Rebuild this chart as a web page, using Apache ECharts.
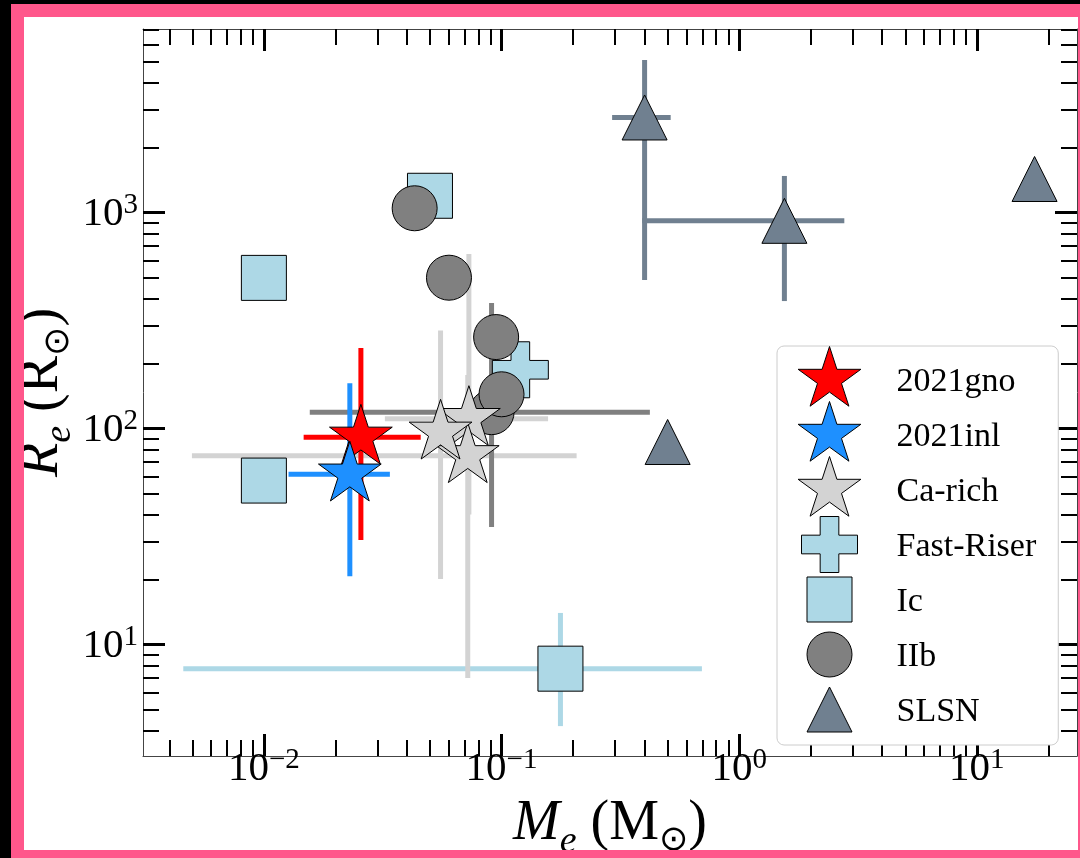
<!DOCTYPE html>
<html>
<head>
<meta charset="utf-8">
<script src="https://cdn.jsdelivr.net/npm/echarts@6.0.0/dist/echarts.min.js"></script>
<style>
  html, body { margin: 0; padding: 0; background: #000; width: 1080px; height: 858px; overflow: hidden; }
  #frame { position: absolute; left: 11px; top: 4px; border: 13px solid #ff578b; background: #fff; width: 1054px; height: 833px; }
  #chart { width: 1054px; height: 833px; }
</style>
</head>
<body>
<div id="frame"><div id="chart"></div></div>
<script>
// Each row: [ejecta mass (Msun), radius (Rsun), mass low, mass high, radius low, radius high]
const sn2021gno = [[0.0256, 91, 0.0147, 0.0457, 30.5, 236]];
const sn2021inl = [[0.0230, 61.4, 0.0127, 0.0339, 20.7, 162]];
const caRich = [
  [0.0729, 111, 0.0323, 0.157, 40, 643],
  [0.0721, 74.7, 0.00498, 0.207, 7.0, 177],
  [0.0554, 96, null, null, 20.1, 284]
];
const fastRiser = [[0.120, 187]];
const typeIc = [[0.0100, 498], [0.0500, 1195], [0.0100, 57.4], [0.177, 7.73, 0.00458, 0.697, 4.19, 14.0]];
const typeIIb = [[0.0908, 119, 0.0156, 0.421, 35, 381], [0.0431, 1046], [0.0601, 499], [0.0949, 265], [0.100, 144]];
const slsn = [[0.400, 2753, 0.292, 0.515, 487, 5082], [1.55, 915, 0.391, 2.77, 389, 1476], [17.5, 1429], [0.50, 86.6]];

const legendOrder = ['2021gno', '2021inl', 'Ca-rich', 'Fast-Riser', 'Ic', 'IIb', 'SLSN'];

// Axis limits and tick values
const xRange = [0.0031, 26.4];
const yRange = [3.047, 7070];
const xMajorTicks = [0.01, 0.1, 1, 10];
const xMinorTicks = [0.004, 0.005, 0.006, 0.007, 0.008, 0.009,
  0.02, 0.03, 0.04, 0.05, 0.06, 0.07, 0.08, 0.09,
  0.2, 0.3, 0.4, 0.5, 0.6, 0.7, 0.8, 0.9,
  2, 3, 4, 5, 6, 7, 8, 9, 20];
const yMajorTicks = [10, 100, 1000];
const yMinorTicks = [4, 5, 6, 7, 8, 9,
  20, 30, 40, 50, 60, 70, 80, 90,
  200, 300, 400, 500, 600, 700, 800, 900,
  2000, 3000, 4000, 5000, 6000, 7000];

const SERIF = "'Liberation Serif', 'DejaVu Serif', serif";

// Marker outlines, drawn inside a fixed 66x66 box so every symbol keeps its own pixel size
const PAD = 'M-33 -33 M33 33 ';
function starSymbol(R) {
  const r = R * 0.381966;
  let d = PAD;
  for (let k = 0; k < 10; k++) {
    const rad = k % 2 ? r : R;
    const a = (-90 + k * 36) * Math.PI / 180;
    d += (k ? 'L' : 'M') + (rad * Math.cos(a)).toFixed(2) + ' ' + (rad * Math.sin(a)).toFixed(2) + ' ';
  }
  return 'path://' + d + 'Z';
}
function squareSymbol(h) {
  return 'path://' + PAD + `M${-h} ${-h} L${h} ${-h} L${h} ${h} L${-h} ${h} Z`;
}
function circleSymbol(r) {
  return 'path://' + PAD + `M${r} 0 A${r} ${r} 0 1 1 ${-r} 0 A${r} ${r} 0 1 1 ${r} 0 Z`;
}
function triangleSymbol(h) {
  return 'path://' + PAD + `M0 ${-h} L${h} ${h} L${-h} ${h} Z`;
}
function plusSymbol(a) {
  const b = (a / 3).toFixed(2);
  return 'path://' + PAD + `M${-b} ${-a} L${b} ${-a} L${b} ${-b} L${a} ${-b} L${a} ${b} L${b} ${b} L${b} ${a} L${-b} ${a} L${-b} ${b} L${-a} ${b} L${-a} ${-b} L${-b} ${-b} Z`;
}

const groups = {
  '2021gno':    { rows: sn2021gno, color: '#ff0000', symbol: starSymbol(33) },
  '2021inl':    { rows: sn2021inl, color: '#1e90ff', symbol: starSymbol(33) },
  'Ca-rich':    { rows: caRich,    color: '#d3d3d3', symbol: starSymbol(33) },
  'Fast-Riser': { rows: fastRiser, color: '#add8e6', symbol: plusSymbol(28) },
  'Ic':         { rows: typeIc,    color: '#add8e6', symbol: squareSymbol(22.5) },
  'IIb':        { rows: typeIIb,   color: '#808080', symbol: circleSymbol(22.5) },
  'SLSN':       { rows: slsn,      color: '#708090', symbol: triangleSymbol(22.5) }
};

// Drawing order: error bars first (bottom), then markers
const barOrder = ['Ic', 'SLSN', 'Fast-Riser', 'Ca-rich', 'IIb', '2021inl', '2021gno'];
const markerOrder = ['SLSN', 'Fast-Riser', 'Ic', 'IIb', 'Ca-rich', '2021gno', '2021inl'];

function fullRow(r) {
  return [r[0], r[1], r[2] ?? null, r[3] ?? null, r[4] ?? null, r[5] ?? null];
}

function errorBarRenderer(color) {
  return function (params, api) {
    const x = api.value(0), y = api.value(1);
    const xl = api.value(2), xh = api.value(3), yl = api.value(4), yh = api.value(5);
    const style = { stroke: color, lineWidth: 5 };
    const kids = [];
    if (isFinite(xl) && isFinite(xh) && xl > 0 && xh > 0) {
      const a = api.coord([xl, y]), b = api.coord([xh, y]);
      kids.push({ type: 'line', shape: { x1: a[0], y1: a[1], x2: b[0], y2: b[1] }, style });
    }
    if (isFinite(yl) && isFinite(yh) && yl > 0 && yh > 0) {
      const a = api.coord([x, yl]), b = api.coord([x, yh]);
      kids.push({ type: 'line', shape: { x1: a[0], y1: a[1], x2: b[0], y2: b[1] }, style });
    }
    return { type: 'group', children: kids };
  };
}

const series = [];
barOrder.forEach(function (name) {
  const g = groups[name];
  series.push({
    type: 'custom',
    name: name + ' bars',
    xAxisIndex: 0, yAxisIndex: 0,
    silent: true, z: 1,
    dimensions: ['m', 'r', 'ml', 'mh', 'rl', 'rh'],
    encode: { x: 0, y: 1 },
    data: g.rows.map(fullRow),
    renderItem: errorBarRenderer(g.color)
  });
});
markerOrder.forEach(function (name) {
  const g = groups[name];
  series.push({
    type: 'scatter',
    name: name,
    xAxisIndex: 0, yAxisIndex: 0,
    silent: true, z: 2,
    symbol: g.symbol,
    symbolSize: 66,
    symbolKeepAspect: true,
    itemStyle: { color: g.color, borderColor: '#000', borderWidth: 1, opacity: 1 },
    data: g.rows.map(function (r) { return [r[0], r[1]]; })
  });
});

function powLabel(v) {
  const e = Math.round(Math.log10(v));
  return '{b|10}{s|' + (e < 0 ? '\u2212' + (-e) : String(e)) + '}';
}
const tickRich = {
  b: { fontFamily: SERIF, fontSize: 41, lineHeight: 44, padding: [5, 0, 0, 0], verticalAlign: 'bottom', color: '#000' },
  s: { fontFamily: SERIF, fontSize: 29, lineHeight: 29, verticalAlign: 'top', color: '#000' }
};
const nameRich = {
  i: { fontFamily: SERIF, fontStyle: 'italic', fontSize: 56, lineHeight: 64, verticalAlign: 'top', color: '#000' },
  n: { fontFamily: SERIF, fontSize: 56, lineHeight: 64, verticalAlign: 'top', color: '#000' },
  e: { fontFamily: SERIF, fontStyle: 'italic', fontSize: 38, lineHeight: 38, verticalAlign: 'top', padding: [27, 0, 0, 0], color: '#000' },
  o: { fontFamily: "'DejaVu Sans', 'DejaVu Serif', sans-serif", fontSize: 35, lineHeight: 38, verticalAlign: 'top', padding: [27, 0, 0, 0], color: '#000' }
};

function logAxis(position, range, ticks, major, labelled, extra) {
  return Object.assign({
    type: 'log', logBase: 10, position: position,
    min: range[0], max: range[1],
    axisLine: { show: major, onZero: false, lineStyle: { color: '#444', width: 1 } },
    axisTick: {
      show: true, inside: true, length: major ? 22 : 16, customValues: ticks,
      lineStyle: { color: '#000', width: major ? 3 : 2 }
    },
    axisLabel: labelled ? {
      show: true, customValues: ticks, formatter: powLabel, rich: tickRich,
      margin: position === 'bottom' ? -10 : 5
    } : { show: false },
    splitLine: { show: false },
    minorTick: { show: false },
    minorSplitLine: { show: false }
  }, extra || {});
}

const chart = echarts.init(document.getElementById('chart'), null, { renderer: 'canvas' });
chart.setOption({
  animation: false,
  backgroundColor: 'transparent',
  grid: { left: 119, right: 1, top: 12, bottom: 94, containLabel: false, outerBoundsMode: 'none' },
  xAxis: [
    logAxis('bottom', xRange, xMajorTicks, true, true, {
      name: '{i|M}{e|e}{n| (M}{o|\u2299}{n|)}', nameLocation: 'middle', nameGap: 40,
      nameMoveOverlap: false,
      nameTextStyle: { rich: nameRich }
    }),
    logAxis('bottom', xRange, xMinorTicks, false, false),
    logAxis('top', xRange, xMajorTicks, true, false),
    logAxis('top', xRange, xMinorTicks, false, false)
  ],
  yAxis: [
    logAxis('left', yRange, yMajorTicks, true, true, {
      name: '{i|R}{e|e}{n| (R}{o|\u2299}{n|)}', nameLocation: 'middle', nameGap: 65, nameRotate: 90,
      nameMoveOverlap: false,
      nameTextStyle: { rich: nameRich }
    }),
    logAxis('left', yRange, yMinorTicks, false, false),
    logAxis('right', yRange, yMajorTicks, true, false),
    logAxis('right', yRange, yMinorTicks, false, false)
  ],
  legend: {
    data: legendOrder,
    orient: 'vertical',
    left: 753, top: 329,
    itemWidth: 66, itemHeight: 66, itemGap: -12,
    padding: [0, 22, 2, 19],
    backgroundColor: '#ffffff',
    borderColor: '#cccccc', borderWidth: 1, borderRadius: 7,
    selectedMode: false,
    symbolKeepAspect: true,
    itemStyle: { borderColor: 'inherit', borderWidth: 1 },
    formatter: function (n) { return '{t|' + n + '}'; },
    textStyle: { rich: { t: { fontFamily: SERIF, fontSize: 34, color: '#000', padding: [6, 0, 0, 29] } } }
  },
  series: series
});
</script>
</body>
</html>
